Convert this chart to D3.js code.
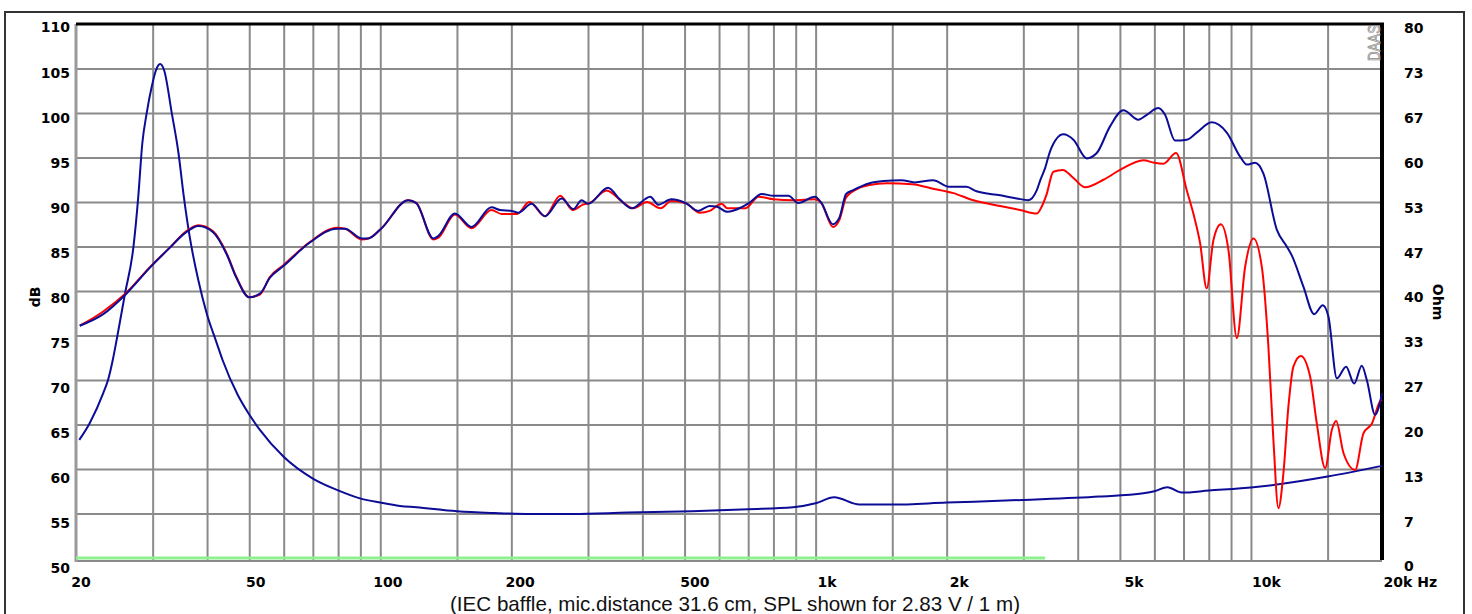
<!DOCTYPE html>
<html><head><meta charset="utf-8">
<script src="https://cdn.jsdelivr.net/npm/d3@7"></script>
<style>
html,body{margin:0;padding:0;background:#fff;}
svg{display:block;}
.tl{font-family:"DejaVu Sans",Verdana,sans-serif;font-weight:bold;font-size:14px;fill:#000;}
</style></head>
<body>
<svg id="c" width="1472" height="614"></svg>
<script>
// ---------- data ----------
const dbTicks = [50,55,60,65,70,75,80,85,90,95,100,105,110];
const ohmTicks = [0,6.667,13.333,20,26.667,33.333,40,46.667,53.333,60,66.667,73.333,80];
const ohmTickLabels = ["0","7","13","20","27","33","40","47","53","60","67","73","80"];
const freqTicks = [20,50,100,200,500,1000,2000,5000,10000,20000];
const freqTickLabels = ["20","50","100","200","500","1k","2k","5k","10k","20k Hz"];
const freqGrid = [30,40,50,60,70,80,90,100,150,200,300,400,500,600,700,800,900,1000,1500,2000,3000,4000,5000,6000,7000,8000,9000,10000,15000];

// SPL, blue (frequency Hz, dB)
const splBlue = [[20.4,76.1],[23.1,77.4],[26.1,79.7],[29.6,82.65],[32.9,84.9],[35.6,86.5],[38.2,87.3],[41.3,86.6],[44.4,84.1],[46.7,81.5],[50,79.3],[52.9,79.7],[55.8,81.5],[59.9,82.8],[68.9,85.45],[79.5,87.0],[83,87.0],[90.6,85.9],[93.8,85.9],[100,86.9],[116,90.2],[121,89.85],[132.4,85.9],[136,86.2],[148.4,88.7],[162,87.2],[180,89.4],[188.5,89.1],[200.4,89.0],[207.6,88.8],[222.6,89.8],[239,88.4],[261,90.4],[277.6,89.2],[290,90.2],[300,89.8],[333.6,91.6],[355,90.3],[378,89.3],[417,90.6],[435,89.7],[466,90.3],[504,89.85],[537,89.0],[571,89.55],[591,89.5],[627,88.9],[675,89.4],[704,89.9],[752,90.9],[800,90.7],[866,90.7],[912,89.9],[996,90.6],[1031,89.9],[1095,87.5],[1134,88.25],[1175,90.9],[1217,91.3],[1330,92.1],[1432,92.35],[1576,92.45],[1688,92.2],[1860,92.45],[2032,91.7],[2221,91.7],[2342,91.2],[2654,90.75],[2898,90.4],[3080,90.2],[3220,91.3],[3290,92.6],[3366,93.8],[3456,95.7],[3708,97.6],[3910,97.0],[4196,94.9],[4424,95.5],[4746,98.5],[5092,100.3],[5514,99.25],[5766,99.8],[6128,100.55],[6348,99.8],[6694,96.9],[7122,97.0],[7508,97.8],[8128,98.95],[8800,97.8],[9441,95.1],[9782,94.2],[10222,94.4],[10682,93.2],[11464,86.9],[12086,85.0],[12410,84.0],[13196,80.5],[13964,77.4],[14622,78.4],[15068,77.1],[15752,70.2],[16542,71.5],[17258,69.6],[17974,71.6],[18456,70.0],[19284,66.1],[20000,68.5]];

// SPL, red (frequency Hz, dB)
const splRed = [[20.4,76.1],[23.1,77.7],[26.1,79.8],[29.6,82.7],[32.9,84.9],[35.6,86.6],[38.2,87.4],[41.3,86.7],[44.4,84.2],[46.7,81.6],[50,79.3],[52.9,79.6],[55.8,81.6],[59.9,82.9],[68.9,85.5],[79.5,87.1],[83,87.0],[90.6,85.8],[93.8,85.9],[100,86.9],[116,90.2],[121,89.9],[132.4,85.8],[136,86.0],[148.4,88.6],[162,87.05],[180,89.1],[190,88.65],[206,88.65],[220,90.0],[239,88.4],[259,90.7],[277,89.1],[292,89.7],[303,89.9],[331,91.3],[362,89.9],[381,89.3],[410,90.0],[440,89.3],[466,90.1],[504,89.85],[542,88.8],[571,89.0],[608,89.8],[627,89.3],[690,89.3],[740,90.6],[800,90.3],[890,90.2],[996,90.3],[1030,89.9],[1096,87.2],[1134,88.0],[1175,90.5],[1250,91.5],[1330,91.9],[1457,92.1],[1665,92.0],[1860,91.5],[2072,91.0],[2304,90.2],[2654,89.55],[2948,89.1],[3222,88.7],[3308,89.5],[3390,90.8],[3516,93.4],[3696,93.6],[3910,92.7],[4160,91.65],[4582,92.5],[5004,93.6],[5662,94.7],[6000,94.4],[6292,94.3],[6730,95.5],[7122,91.3],[7374,88.7],[7640,85.4],[7914,80.3],[8198,85.7],[8528,87.5],[8878,84.6],[9280,74.7],[9696,82.7],[10132,85.9],[10592,82.7],[10968,73.7],[11260,63.3],[11562,55.6],[11872,59.5],[12190,67.0],[12518,71.5],[13016,72.7],[13674,70.4],[14168,65.1],[14806,60.1],[15340,64.4],[15694,65.4],[16312,61.8],[17350,59.9],[18128,64.0],[18952,65.1],[19798,67.6],[20000,67.8]];

// impedance (frequency Hz, Ohm)
const impedance = [[20.35,17.7],[21.5,20.2],[23.1,24.7],[23.7,26.7],[24.3,29.7],[24.8,32.7],[25.9,39.5],[27.1,46.6],[27.8,54.1],[28.4,62.1],[29.06,66.6],[29.85,70.6],[30.5,73.0],[31.2,74.0],[31.9,73.0],[33.2,66.6],[34.4,60.6],[35.3,54.6],[36.5,48.1],[38.2,41.6],[39.9,36.7],[42.1,32.2],[43.4,29.7],[47,24.5],[50,21.5],[52.9,19.2],[59.9,15.2],[70,11.9],[79.5,10.2],[90.2,8.9],[100,8.3],[111,7.8],[121,7.6],[150,7.0],[183,6.74],[222,6.6],[277,6.6],[370,6.8],[520,7.0],[700,7.3],[887,7.6],[1000,8.2],[1103,9.1],[1261,8.0],[1500,8.0],[2000,8.3],[3000,8.7],[4486,9.2],[5662,9.7],[6000,10.0],[6430,10.6],[6936,9.8],[8000,10.1],[10132,10.6],[11464,11.0],[15000,12.2],[20000,13.8]];

// baseline trace (frequency Hz, dB)
const greenTrace = [[20,50],[3366,50]];

// ---------- drawing ----------
const svg = d3.select("#c");
const L=76, R=1382, T=24, B=558;
const x = d3.scaleLog().domain([20,20000]).range([L,R]);
const y = d3.scaleLinear().domain([50,110]).range([B,T]);
const yOhm = d3.scaleLinear().domain([0,80]).range([B,T]);
const xLab = d3.scaleLog().domain([20,20000]).range([80.5,1398]);
const yLab = d3.scaleLinear().domain([50,110]).range([568,27.5]);
const yOhmLab = d3.scaleLinear().domain([0,80]).range([566.5,28.5]);

// outer frame
svg.append("rect").attr("x",5).attr("y",12).attr("width",1459).attr("height",640)
  .attr("fill","none").attr("stroke","#333").attr("stroke-width",2);

// grid
const gx = svg.append("g").attr("transform",`translate(0,${B+3})`)
  .call(d3.axisBottom(x).tickValues(freqGrid).tickSize(-(B+3-T)).tickFormat(""));
gx.select(".domain").remove();
gx.selectAll("line").attr("stroke","#8a8a8a").attr("stroke-width",2);

const gy = svg.append("g").attr("transform",`translate(${L},0)`)
  .call(d3.axisLeft(y).tickValues(dbTicks.filter(d=>d>50&&d<110)).tickSize(-(R-L)).tickFormat(""));
gy.select(".domain").remove();
gy.selectAll("line").attr("stroke","#8a8a8a").attr("stroke-width",2);

// axis frame lines
svg.append("line").attr("x1",L).attr("x2",R).attr("y1",B+3).attr("y2",B+3).attr("stroke","#8a8a8a").attr("stroke-width",2);
svg.append("line").attr("x1",L).attr("x2",L).attr("y1",T).attr("y2",B+4).attr("stroke","#9a9a9a").attr("stroke-width",3);
svg.append("line").attr("x1",L).attr("x2",R+2).attr("y1",T).attr("y2",T).attr("stroke","#000").attr("stroke-width",3);
svg.append("line").attr("x1",R).attr("x2",R).attr("y1",T-1).attr("y2",B+2).attr("stroke","#000").attr("stroke-width",4);

// curves
const lineDb = d3.line().x(d=>x(d[0])).y(d=>y(d[1])).curve(d3.curveMonotoneX);
const lineOhm = d3.line().x(d=>x(d[0])).y(d=>yOhm(d[1])).curve(d3.curveMonotoneX);

svg.append("path").datum(greenTrace).attr("d",lineDb).attr("fill","none").attr("stroke","#8ef08e").attr("stroke-width",3);
svg.append("path").datum(impedance).attr("d",lineOhm).attr("fill","none").attr("stroke","#0c0c96").attr("stroke-width",2);
svg.append("path").datum(splRed).attr("d",lineDb).attr("fill","none").attr("stroke","#ff0000").attr("stroke-width",2);
svg.append("path").datum(splBlue).attr("d",lineDb).attr("fill","none").attr("stroke","#0c0c96").attr("stroke-width",2);

// left labels
const ay = svg.append("g").attr("transform","translate(70,0)")
  .call(d3.axisLeft(yLab).tickValues(dbTicks).tickSize(0).tickPadding(0).tickFormat(d3.format("d")));
ay.select(".domain").remove();
ay.selectAll("text").attr("class","tl").attr("font-family",null).attr("font-size",null);

// right labels
const ar = svg.append("g").attr("transform","translate(1404,0)")
  .call(d3.axisRight(yOhmLab).tickValues(ohmTicks).tickSize(0).tickPadding(0).tickFormat((d,i)=>ohmTickLabels[i]));
ar.select(".domain").remove();
ar.selectAll("text").attr("class","tl").attr("font-family",null).attr("font-size",null);

// bottom labels
const ax = svg.append("g").attr("transform","translate(0,577)")
  .call(d3.axisBottom(xLab).tickValues(freqTicks).tickSize(0).tickPadding(0).tickFormat((d,i)=>freqTickLabels[i]));
ax.select(".domain").remove();
ax.selectAll("text").attr("class","tl").attr("font-family",null).attr("font-size",null);
ax.selectAll("text").filter(d=>d===20000).attr("text-anchor","start").attr("x",1383-xLab(20000));

// axis titles
svg.append("text").attr("class","tl").attr("transform","translate(40,297) rotate(-90)")
  .attr("text-anchor","middle").text("dB");
svg.append("text").attr("class","tl").attr("transform","translate(1433,302) rotate(90)")
  .attr("text-anchor","middle").text("Ohm");

// watermark
svg.append("text").attr("transform","translate(1380,61) rotate(-90)")
  .attr("font-family","Liberation Sans, Arial, sans-serif").attr("font-size",17)
  .attr("textLength",36).attr("lengthAdjust","spacingAndGlyphs")
  .attr("fill","none").attr("stroke","#8a8a8a").attr("stroke-width",0.8).text("DAAS");

// caption
svg.append("text").attr("x",735).attr("y",611).attr("text-anchor","middle")
  .attr("font-family","Liberation Sans, Arial, sans-serif").attr("font-size",20.6)
  .attr("fill","#111").text("(IEC baffle, mic.distance 31.6 cm, SPL shown for 2.83 V / 1 m)");
</script>
</body></html>
